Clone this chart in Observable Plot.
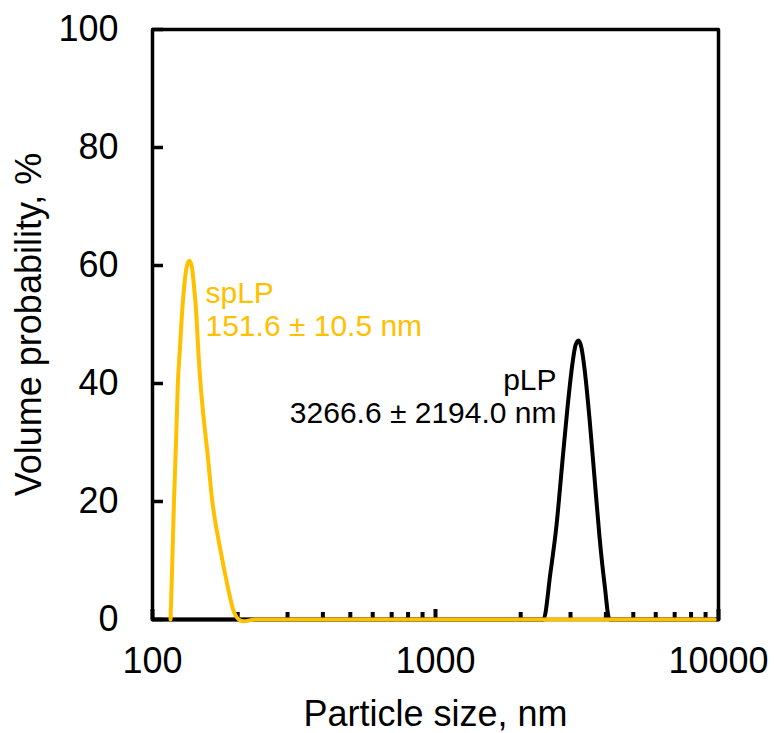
<!DOCTYPE html>
<html>
<head>
<meta charset="utf-8">
<script src="https://cdn.jsdelivr.net/npm/d3@7"></script>
<script src="https://cdn.jsdelivr.net/npm/@observablehq/plot@0.6"></script>
<style>
  html, body { margin: 0; padding: 0; background: #fff; }
</style>
</head>
<body>
<div id="chart"></div>
<script>
// ---- data ----
const spSize = [115.8, 117.2, 119.1, 121.1, 122.9, 124.9, 126.9, 129.7, 132.4, 135.1, 137.7, 139.9, 143.1, 145.1, 147.8, 152.1, 156.1, 162.5, 173.9, 183.6, 193.3, 201.8, 209.7, 231, 300, 500, 1000, 2000, 5000, 9700];
const spValue = [0, 8, 20, 30, 40, 45.6, 51.2, 56.9, 60, 60.8, 59.8, 56.9, 51.2, 45.6, 40, 33.5, 28.6, 20.2, 11.7, 6, 1.5, 0, -0.3, 0, 0, 0, 0, 0, 0, 0];

const pSize = [100, 1000, 2407, 2549, 2677, 2811, 2928, 3050, 3125, 3202, 3281, 3362, 3502, 3647, 3798, 3956, 4120, 10000];
const pValue = [0, 0, 0, 8, 16, 27, 36, 43.5, 46.5, 47.3, 46, 42.5, 34, 24, 14, 6, 0, 0];

const xTicks = [100, 1000, 10000];
const xMinorTicks = [200, 300, 400, 500, 600, 700, 800, 900, 2000, 3000, 4000, 5000, 6000, 7000, 8000, 9000];
const yTicks = [0, 20, 40, 60, 80, 100];

const spLabel = ["spLP", "151.6 ± 10.5 nm"];
const pLabel = ["pLP", "3266.6 ± 2194.0 nm"];

const xTitle = "Particle size, nm";
const yTitle = "Volume probability, %";

// ---- build ----
const sp = spSize.map((s, i) => ({size: s, value: spValue[i]}));
const pl = pSize.map((s, i) => ({size: s, value: pValue[i]}));

const W = 774, H = 733, mL = 152, mR = 56, mT = 29, mB = 114;
const innerW = W - mL - mR, innerH = H - mT - mB;

const gold = "#FFC000";

const chart = Plot.plot({
  width: W,
  height: H,
  marginLeft: mL,
  marginRight: mR,
  marginTop: mT,
  marginBottom: mB,
  style: {fontFamily: "'Liberation Sans', Arial, sans-serif", fontSize: "36px", background: "#fff", color: "#000"},
  x: {type: "log", domain: [100, 10000]},
  y: {domain: [0, 100]},
  marks: [
    Plot.frame({stroke: "#000", strokeWidth: 3.5, strokeLinejoin: "round"}),
    // inward y ticks
    Plot.ruleY(yTicks, {y: d => d, insetRight: innerW - 11, stroke: "#000", strokeWidth: 3.5}),
    // inward x ticks
    Plot.ruleX(xTicks, {x: d => d, insetTop: innerH - 10, stroke: "#000", strokeWidth: 4}),
    Plot.ruleX(xMinorTicks, {x: d => d, insetTop: innerH - 7, stroke: "#000", strokeWidth: 4}),
    Plot.axisY({ticks: yTicks, tickSize: 0, tickPadding: 34, label: null, fontSize: 36, tickFormat: d => String(d)}),
    Plot.axisX({ticks: xTicks, tickSize: 0, tickPadding: 28, label: null, fontSize: 36, tickFormat: d => String(d)}),
    Plot.text([xTitle], {frameAnchor: "bottom", dy: 81, lineAnchor: "top", textAnchor: "middle", fontSize: 36, fill: "#000"}),
    Plot.text([yTitle], {frameAnchor: "left", dx: -137, rotate: -90, lineAnchor: "top", textAnchor: "middle", fontSize: 36, fill: "#000"}),
    Plot.line(pl, {x: "size", y: "value", stroke: "#000", strokeWidth: 4, curve: "monotone-x"}),
    Plot.line(sp, {x: "size", y: "value", stroke: gold, strokeWidth: 4, curve: "monotone-x"}),
    Plot.text([spLabel.join("\n")], {x: 153.9, y: 57.6, textAnchor: "start", lineAnchor: "top", lineHeight: 1.1, fontSize: 30, fill: gold}),
    Plot.text([pLabel.join("\n")], {x: 2677, y: 42.8, textAnchor: "end", lineAnchor: "top", lineHeight: 1.1, fontSize: 30, fill: "#000"})
  ]
});

document.getElementById("chart").appendChild(chart);
</script>
</body>
</html>
